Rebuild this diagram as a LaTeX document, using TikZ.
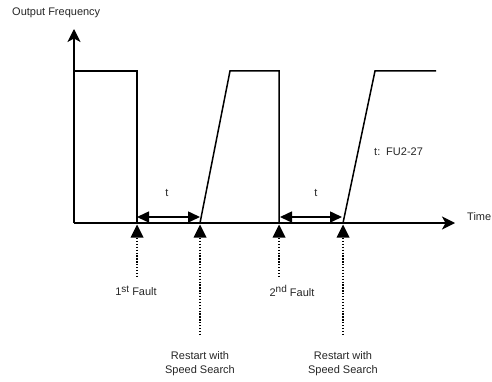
\documentclass[tikz,border=0pt]{standalone}
\usepackage{fontspec}
\setmainfont{Liberation Sans}
\usetikzlibrary{arrows.meta}
\newcommand{\supr}[1]{\raisebox{3.5pt}{\fontsize{10}{12}\selectfont #1}}
\begin{document}
\begin{tikzpicture}[x=1pt,y=-1pt,
  sig/.style={line width=1.5pt},
  axis/.style={line width=1.5pt,-{Stealth[length=13pt,width=13pt,inset=3.5pt]}},
  span/.style={line width=1.5pt,{Triangle[length=12pt,width=11pt]}-{Triangle[length=12pt,width=11pt]}},
  dots/.style={line width=1.3pt,dash pattern=on 1.3pt off 1.6pt},
  lbl/.style={font=\fontsize{11}{13}\selectfont,inner sep=0pt,text=black!85},
  tri/.style={fill=black}]
\useasboundingbox (0,0) rectangle (492,382);
% axes
\coordinate (O) at (74,223);
\coordinate (ytop) at (74,29);
\coordinate (xend) at (455,223);
\draw[axis] (O) -- (ytop);
\draw[axis] (O) -- (xend);
\node[lbl,anchor=west] (ylab) at (12,13) {Output Frequency};
\node[lbl,anchor=west] (xlab) at (467,217) {Time};
% signal
\coordinate (f1) at (137,223);
\coordinate (r1) at (200,223);
\coordinate (f2) at (279,223);
\coordinate (r2) at (343,223);
\draw[sig] (O) -- (74,71) -- (137,71) -- (f1);
\draw[sig] (r1) -- (230,71) -- (279,71) -- (f2);
\draw[sig] (r2) -- (375,71) -- (436,71);
% t spans
\coordinate (t1a) at (137,217);
\coordinate (t1b) at (200,217);
\coordinate (t2a) at (280,217);
\coordinate (t2b) at (342,217);
\draw[span] (t1a) -- (t1b);
\draw[span] (t2a) -- (t2b);
\node[lbl] (t1) at (167,193) {t};
\node[lbl] (t2) at (316,193) {t};
\node[lbl,anchor=west] (fu) at (374,152) {t:\, FU2-27};
% event markers
\foreach \n/\x/\len in {m1/137/277, m2/200/335, m3/279/277, m4/343/335}{
  \coordinate (\n top) at (\x,224.5);
  \coordinate (\n bot) at (\x,\len);
  \fill[tri] (\n top) -- ++(-6.5,13) -- ++(13,0) -- cycle;
  \draw[dots] (\x,238) -- (\n bot);
}
\node[lbl] (fault1) at (136,291) {1\supr{st} Fault};
\node[lbl] (fault2) at (292,291) {2\supr{nd} Fault};
\node[lbl,align=center] (rs1) at (200,364) {Restart with\\[1pt]Speed Search};
\node[lbl,align=center] (rs2) at (343,364) {Restart with\\[1pt]Speed Search};
\end{tikzpicture}
\end{document}
